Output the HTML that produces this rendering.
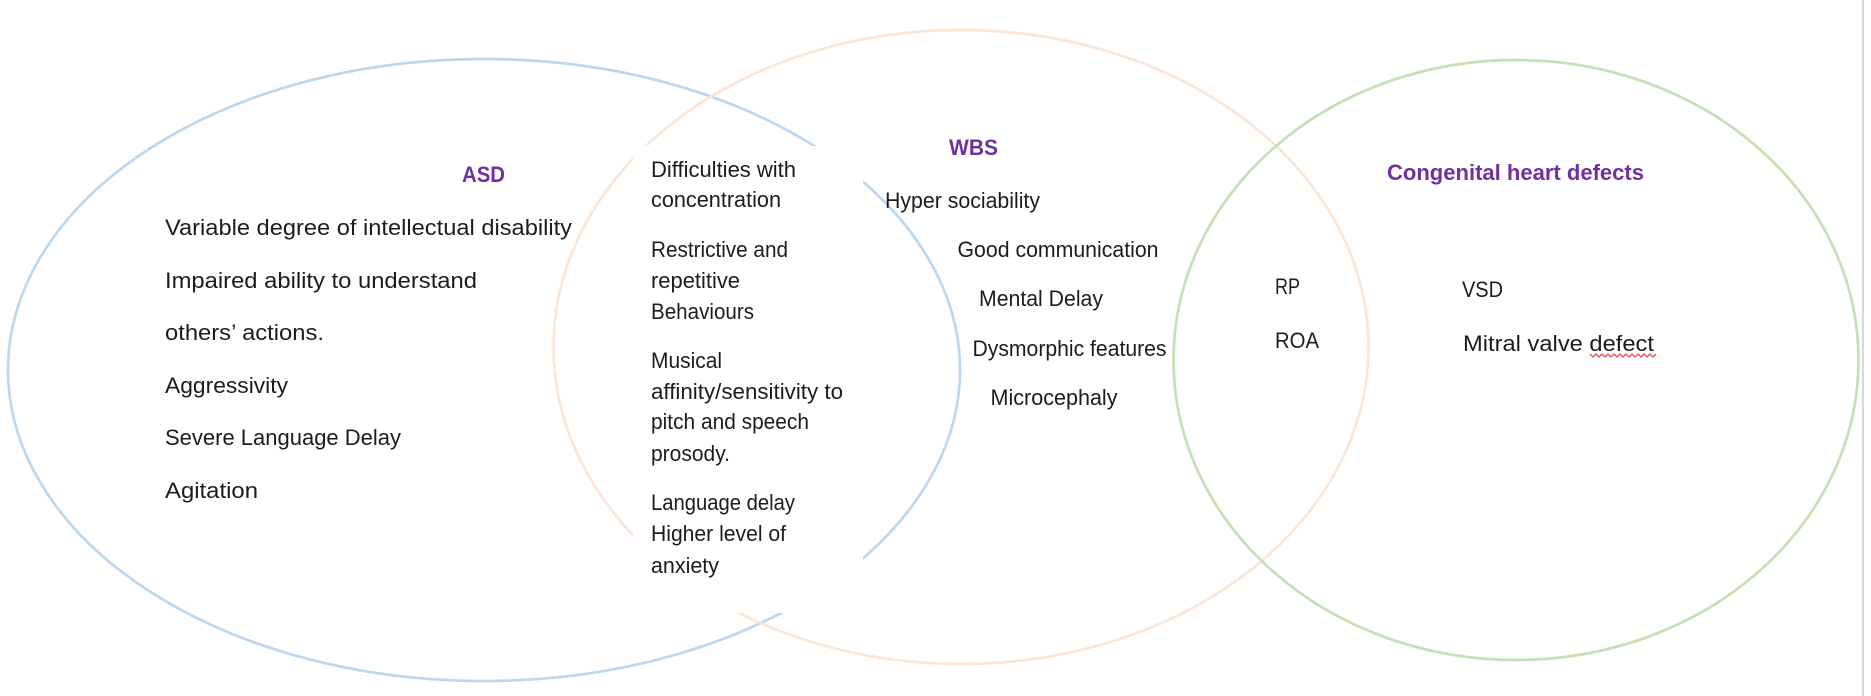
<!DOCTYPE html>
<html>
<head>
<meta charset="utf-8">
<style>
html,body{margin:0;padding:0;background:#fff;width:1871px;height:696px;overflow:hidden}
svg{display:block}
text{font-family:"Liberation Sans",sans-serif;font-size:22px;fill:#1c1c1c}
text.h{font-weight:bold;fill:#7030a0;font-size:22px}
</style>
</head>
<body>
<svg width="1871" height="696" viewBox="0 0 1871 696" xmlns="http://www.w3.org/2000/svg">
<rect width="1871" height="696" fill="#fff"/>
<rect x="1862" y="0" width="2" height="696" fill="#d8d8d8"/>
<ellipse cx="484" cy="370" rx="476" ry="311" fill="none" stroke="#bdd7ee" stroke-width="2.7"/>
<ellipse cx="961" cy="347" rx="407.500" ry="317" fill="none" stroke="#fbe5d6" stroke-width="2.7"/>
<ellipse cx="1516" cy="360" rx="342.500" ry="300" fill="none" stroke="#c5e0b4" stroke-width="2.7"/>
<rect x="633" y="146" width="230" height="467" fill="#fff"/>

<text class="h" x="462" y="182" textLength="43" lengthAdjust="spacingAndGlyphs">ASD</text>
<text x="165" y="235" textLength="407" lengthAdjust="spacingAndGlyphs">Variable degree of intellectual disability</text>
<text x="165" y="288" textLength="312" lengthAdjust="spacingAndGlyphs">Impaired ability to understand</text>
<text x="165" y="340" textLength="159" lengthAdjust="spacingAndGlyphs">others’ actions.</text>
<text x="165" y="393" textLength="123" lengthAdjust="spacingAndGlyphs">Aggressivity</text>
<text x="165" y="445" textLength="236" lengthAdjust="spacingAndGlyphs">Severe Language Delay</text>
<text x="165" y="498" textLength="93" lengthAdjust="spacingAndGlyphs">Agitation</text>

<text x="651" y="177" textLength="145" lengthAdjust="spacingAndGlyphs">Difficulties with</text>
<text x="651" y="207" textLength="130" lengthAdjust="spacingAndGlyphs">concentration</text>
<text x="651" y="257" textLength="137" lengthAdjust="spacingAndGlyphs">Restrictive and</text>
<text x="651" y="288" textLength="89" lengthAdjust="spacingAndGlyphs">repetitive</text>
<text x="651" y="319" textLength="103" lengthAdjust="spacingAndGlyphs">Behaviours</text>
<text x="651" y="368" textLength="71" lengthAdjust="spacingAndGlyphs">Musical</text>
<text x="651" y="399" textLength="192" lengthAdjust="spacingAndGlyphs">affinity/sensitivity to</text>
<text x="651" y="429" textLength="158" lengthAdjust="spacingAndGlyphs">pitch and speech</text>
<text x="651" y="461" textLength="79" lengthAdjust="spacingAndGlyphs">prosody.</text>
<text x="651" y="510" textLength="144" lengthAdjust="spacingAndGlyphs">Language delay</text>
<text x="651" y="541" textLength="135" lengthAdjust="spacingAndGlyphs">Higher level of</text>
<text x="651" y="573" textLength="68" lengthAdjust="spacingAndGlyphs">anxiety</text>

<text class="h" x="949" y="155" textLength="49" lengthAdjust="spacingAndGlyphs">WBS</text>
<text x="885" y="208" textLength="155" lengthAdjust="spacingAndGlyphs">Hyper sociability</text>
<text x="957.500" y="257" textLength="201" lengthAdjust="spacingAndGlyphs">Good communication</text>
<text x="979" y="306" textLength="124" lengthAdjust="spacingAndGlyphs">Mental Delay</text>
<text x="972.500" y="356" textLength="194" lengthAdjust="spacingAndGlyphs">Dysmorphic features</text>
<text x="990.500" y="405" textLength="127" lengthAdjust="spacingAndGlyphs">Microcephaly</text>

<text x="1275" y="294" textLength="25" lengthAdjust="spacingAndGlyphs">RP</text>
<text x="1275" y="348" textLength="44" lengthAdjust="spacingAndGlyphs">ROA</text>

<text class="h" x="1387" y="180" textLength="257" lengthAdjust="spacingAndGlyphs">Congenital heart defects</text>
<text x="1462" y="297" textLength="41" lengthAdjust="spacingAndGlyphs">VSD</text>
<text x="1463" y="351" textLength="191" lengthAdjust="spacingAndGlyphs">Mitral valve defect</text>
<path d="M1590 354 l3 3 l3 -3 l3 3 l3 -3 l3 3 l3 -3 l3 3 l3 -3 l3 3 l3 -3 l3 3 l3 -3 l3 3 l3 -3 l3 3 l3 -3 l3 3 l3 -3 l3 3 l3 -3 l3 3 l3 -3" fill="none" stroke="#e8484a" stroke-width="1.3"/>
</svg>
</body>
</html>
